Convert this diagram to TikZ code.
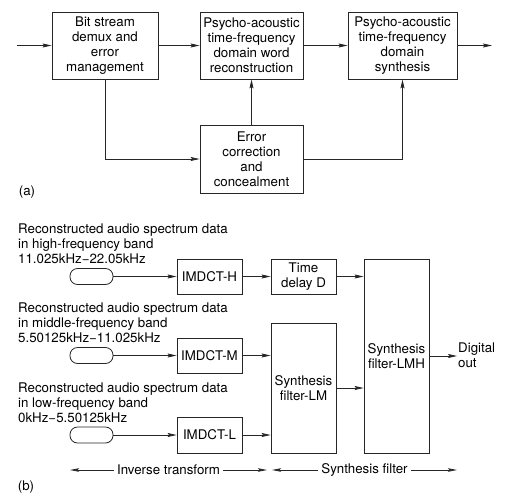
\documentclass[tikz,border=0pt]{standalone}
\usepackage{fontspec}
\setmainfont{TeX Gyre Heros}
\usetikzlibrary{arrows.meta}
\newcommand{\mydash}{\char"2212\relax}
\begin{document}
\begin{tikzpicture}[x=1pt,y=-1pt,
  every node/.style={font=\fontsize{13.3}{15}\selectfont, text=black},
  blk/.style={draw=black!85, line width=0.8pt, inner sep=0pt, align=center},
  oval/.style={draw=black!85, line width=0.8pt, rounded corners=7.5pt, minimum width=43pt, minimum height=16pt, inner sep=0pt},
  lbl/.style={anchor=north west, inner sep=0pt, align=left},
  arr/.style={draw=black!85, line width=0.8pt, -{Stealth[length=9pt,width=4pt,inset=1.5pt]}},
  dbl/.style={draw=black!85, line width=0.7pt, {Stealth[length=9pt,width=3.5pt,inset=1.5pt]}-{Stealth[length=9pt,width=3.5pt,inset=1.5pt]}}
]
\useasboundingbox (0,0) rectangle (508,498);
% ---------- (a) ----------
\node[blk, minimum width=106pt, minimum height=67pt] (b1) at (105,45.5) {Bit stream\\demux and\\error\\management};
\node[blk, minimum width=103pt, minimum height=67pt] (b2) at (251.5,45.5) {Psycho-acoustic\\time-frequency\\domain word\\reconstruction};
\node[blk, minimum width=109pt, minimum height=67pt] (b3) at (402.5,45.5) {Psycho-acoustic\\time-frequency\\domain\\synthesis};
\node[blk, minimum width=103pt, minimum height=68pt] (b4) at (251.5,159) {Error\\correction\\and\\concealment};
\coordinate (ain) at (17,45.5);
\coordinate (aout) at (492,45.5);
\draw[arr] (ain) -- (b1);
\draw[arr] (b1) -- (b2);
\draw[arr] (b2) -- (b3);
\draw[arr] (b3) -- (aout);
\draw[arr] (b1.south) |- (b4.west);
\draw[arr] (b4) -- (b2);
\draw[arr] (b4.east) -| (b3.south);
\node[inner sep=0pt] (la) at (27,192) {(a)};
% ---------- (b) ----------
\node[lbl] (th) at (18,224) {Reconstructed audio spectrum data\\in high-frequency band\\11.025kHz\mydash 22.05kHz};
\node[lbl] (tm) at (18,303) {Reconstructed audio spectrum data\\in middle-frequency band\\5.50125kHz\mydash 11.025kHz};
\node[lbl] (tl) at (18,383) {Reconstructed audio spectrum data\\in low-frequency band\\0kHz\mydash 5.50125kHz};
\node[oval] (oh) at (91.5,276.5) {};
\node[oval] (om) at (91.5,355.5) {};
\node[oval] (ol) at (91.5,435) {};
\node[blk, minimum width=65pt, minimum height=35pt] (ih) at (209.5,276.5) {IMDCT-H};
\node[blk, minimum width=65pt, minimum height=35pt] (im) at (209.5,355.5) {IMDCT-M};
\node[blk, minimum width=65pt, minimum height=36pt] (il) at (209.5,435) {IMDCT-L};
\node[blk, minimum width=65pt, minimum height=35pt] (td) at (303.5,276.5) {Time\\delay D};
\node[blk, minimum width=65pt, minimum height=130pt] (lm) at (303.5,388) {Synthesis\\filter-LM};
\node[blk, minimum width=65pt, minimum height=194pt] (lmh) at (396.5,356) {Synthesis\\filter-LMH};
\draw[arr] (oh) -- (ih);
\draw[arr] (om) -- (im);
\draw[arr] (ol) -- (il);
\draw[arr] (ih) -- (td);
\draw[arr] (im.east) -- (lm.west |- im.east);
\draw[arr] (il.east) -- (lm.west |- il.east);
\draw[arr] (td.east) -- (lmh.west |- td.east);
\draw[arr] (lm.east) -- (lmh.west |- lm.east);
\coordinate (dout) at (457,356);
\draw[arr] (lmh.east |- dout) -- (dout);
\node[lbl] (dig) at (458,343) {Digital\\out};
\coordinate (it1) at (70,470);
\coordinate (it2) at (267,470);
\coordinate (sf1) at (272,470);
\coordinate (sf2) at (457,470);
\draw[dbl] (it1) -- node[fill=white, inner sep=3pt] (itx) {Inverse transform} (it2);
\draw[dbl] (sf1) -- node[fill=white, inner sep=3pt] (sfx) {Synthesis filter} (sf2);
\node[inner sep=0pt] (lb) at (26,487) {(b)};
\end{tikzpicture}
\end{document}
